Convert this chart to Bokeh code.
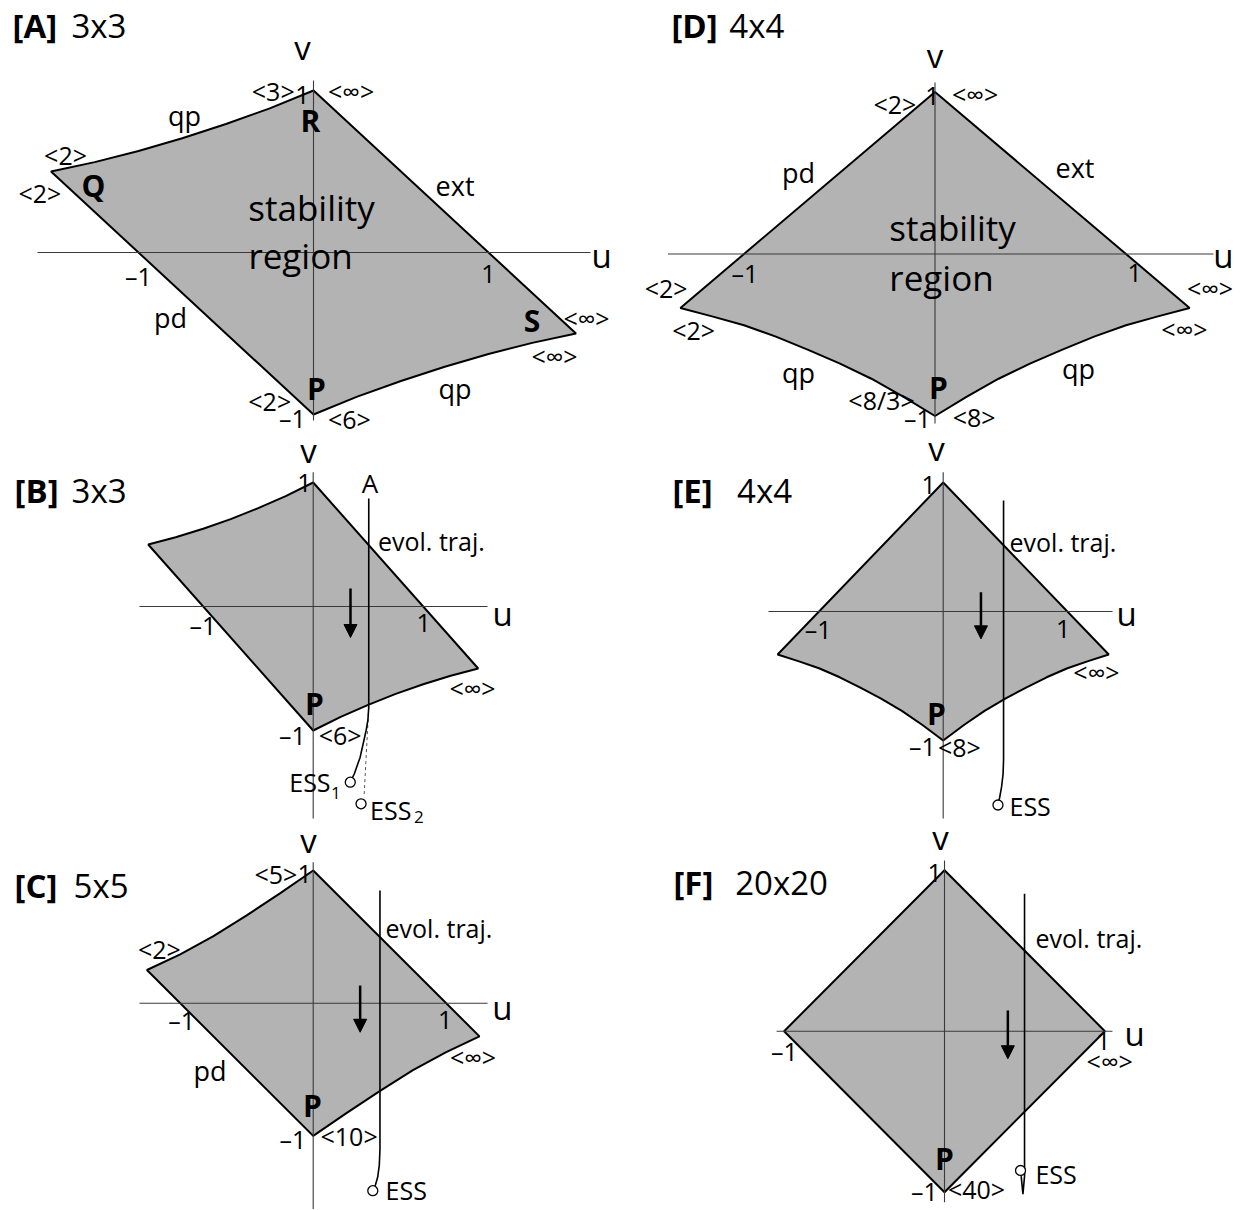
from bokeh.plotting import figure
from bokeh.models import Range1d, Arrow, NormalHead
from bokeh.core.properties import value
from bokeh.embed import file_html
from bokeh.resources import INLINE

FONT = "Open Sans"
FILL = "#b3b3b3"
AXC = "#3a3a3a"

# ---------------- data (u, v coordinates) ----------------
# 3x3 stability region (panels A, B)
qp3_top_u = [-1.5, -1.25, -1.0, -0.75, -0.5, -0.25, 0.0]
qp3_top_v = [0.5, 0.558, 0.627, 0.705, 0.793, 0.89, 1.0]
qp3_bot_u = [0.0, 0.25, 0.5, 0.75, 1.0, 1.25, 1.5]
qp3_bot_v = [-1.0, -0.89, -0.793, -0.705, -0.627, -0.558, -0.5]

# 4x4 stability region (panels D, E)
top4 = (0.0, 1.0)
qp4_left_u = [-1.333, -1.167, -1.0, -0.833, -0.667, -0.5, -0.333, -0.167, 0.0]
qp4_left_v = [-0.333, -0.385, -0.44, -0.51, -0.59, -0.675, -0.77, -0.88, -1.0]
qp4_right_u = [0.0, 0.167, 0.333, 0.5, 0.667, 0.833, 1.0, 1.167, 1.333]
qp4_right_v = [-1.0, -0.88, -0.77, -0.675, -0.59, -0.51, -0.44, -0.385, -0.333]

# 5x5 stability region (panel C)
qp5_top_u = [-1.25, -1.0, -0.75, -0.5, -0.25, 0.0]
qp5_top_v = [0.25, 0.368, 0.505, 0.662, 0.828, 1.0]
qp5_bot_u = [0.0, 0.25, 0.5, 0.75, 1.0, 1.25]
qp5_bot_v = [-1.0, -0.828, -0.662, -0.505, -0.368, -0.25]

# 20x20 stability region (panel F)
sq20_u = [0.0, 1.0, 0.0, -1.0]
sq20_v = [1.0, 0.0, -1.0, 0.0]

# evolutionary trajectories
B_traj_u = [0.505, 0.505, 0.497, 0.481, 0.427, 0.374, 0.337]
B_traj_v = [0.871, -0.812, -0.919, -1.0, -1.215, -1.349, -1.417]
B_dash_u = [0.505, 0.462]
B_dash_v = [-0.812, -1.538]
B_ess_u = [0.337, 0.435]
B_ess_v = [-1.417, -1.591]

E_traj_u = [0.486, 0.486, 0.482, 0.47, 0.455, 0.441]
E_traj_v = [0.86, -1.15, -1.26, -1.36, -1.44, -1.50]
E_ess_u = [0.441]
E_ess_v = [-1.50]

C_traj_u = [0.502, 0.502, 0.497, 0.485, 0.468, 0.448]
C_traj_v = [0.849, -1.10, -1.22, -1.31, -1.37, -1.413]
C_ess_u = [0.448]
C_ess_v = [-1.413]

F_traj_u = [0.499, 0.499, 0.489, 0.478]
F_traj_v = [0.853, -0.90, -1.012, -0.90]
F_ess_u = [0.474]
F_ess_v = [-0.865]

# direction arrows (u, v_start, v_end)
B_arrow = (0.339, 0.145, -0.25)
E_arrow = (0.304, 0.15, -0.212)
C_arrow = (0.353, 0.133, -0.219)
F_arrow = (0.395, 0.129, -0.171)

# ---------------- one canvas, one (u, v) scale pair per panel ----------------
W, H = 1240, 1210
p = figure(width=W, height=H, x_range=Range1d(0, W), y_range=Range1d(H, 0),
           output_backend="svg", toolbar_location=None,
           x_axis_location=None, y_axis_location=None, title=None, min_border=0)
p.grid.visible = False
p.outline_line_color = None
p.background_fill_color = "white"
p.border_fill_color = "white"

# panel name -> (origin x, origin y, px per u, px per v) on the canvas
PANELS = {
    "A": (313, 252, 175, 162),
    "D": (934.5, 253.5, 191, 162),
    "B": (312.7, 606, 110, 124),
    "E": (942.7, 611, 124.2, 129),
    "C": (312.7, 1002.7, 133, 132.7),
    "F": (944, 1030.7, 160.4, 161),
}
for name, (ox, oy, sx, sy) in PANELS.items():
    p.extra_x_ranges[name] = Range1d(-ox / sx, (W - ox) / sx)
    p.extra_y_ranges[name] = Range1d((oy - H) / sy, oy / sy)


def R(n):
    return dict(x_range_name=n, y_range_name=n)


def region(n, us, vs):
    p.patch(us, vs, fill_color=FILL, line_color="black", line_width=2, **R(n))


def axes(n, ur, vr):
    p.line(list(ur), [0, 0], line_color=AXC, line_width=1.1, **R(n))
    p.line([0, 0], list(vr), line_color=AXC, line_width=1.1, **R(n))


def labels(n, items):
    for (u, v, t, size, bold, align) in items:
        p.text(x=[u], y=[v], text=[t], text_font=value(FONT),
               text_font_size=f"{size}px",
               text_font_style="bold" if bold else "normal",
               text_align=align, text_baseline="middle", text_color="black", **R(n))


def arrow(n, a):
    u, v0, v1 = a
    p.add_layout(Arrow(end=NormalHead(size=13, fill_color="black", line_color="black"),
                       x_start=u, y_start=v0, x_end=u, y_end=v1,
                       line_width=2.5, line_color="black", **R(n)))


def traj(n, us, vs):
    p.line(us, vs, line_color="black", line_width=1.6, **R(n))


def ess(n, us, vs):
    p.scatter(us, vs, marker="circle", size=10, fill_color="white",
              line_color="black", line_width=1.3, **R(n))


T, AX, TK, PER, WD, BL, SR, ET = 33, 33, 25, 25, 27, 30, 35, 25
M1 = "\u20131"
INF = "<\u221e>"

# ---------------- panel A (3x3) ----------------
region("A", qp3_top_u + qp3_bot_u[::-1], qp3_top_v + qp3_bot_v[::-1])
axes("A", (-1.577, 1.583), (1.062, -1.037))
labels("A", [
    (-1.72, 1.401, "[A]", T, True, "left"),
    (-1.383, 1.401, "3x3", T, False, "left"),
    (-0.063, 1.265, "v", AX, False, "center"),
    (-0.23, 1.0, "<3>", PER, False, "center"),
    (-0.063, 0.975, "1", TK, False, "center"),
    (0.215, 0.994, INF, PER, False, "center"),
    (-0.737, 0.846, "qp", WD, False, "center"),
    (-0.017, 0.815, "R", BL, True, "center"),
    (-1.417, 0.599, "<2>", PER, False, "center"),
    (-1.563, 0.370, "<2>", PER, False, "center"),
    (-1.257, 0.414, "Q", BL, True, "center"),
    (0.809, 0.414, "ext", WD, False, "center"),
    (-0.011, 0.278, "stability", SR, False, "center"),
    (-0.074, -0.019, "region", SR, False, "center"),
    (1.646, -0.019, "u", AX, False, "center"),
    (-1.0, -0.142, M1, TK, False, "center"),
    (1.0, -0.13, "1", TK, False, "center"),
    (-0.817, -0.401, "pd", WD, False, "center"),
    (1.249, -0.42, "S", BL, True, "center"),
    (1.56, -0.407, INF, PER, False, "center"),
    (1.377, -0.636, INF, PER, False, "center"),
    (0.809, -0.84, "qp", WD, False, "center"),
    (0.017, -0.84, "P", BL, True, "center"),
    (-0.25, -0.914, "<2>", PER, False, "center"),
    (-0.12, -1.019, M1, TK, False, "center"),
    (0.205, -1.025, "<6>", PER, False, "center"),
])

# ---------------- panel D (4x4) ----------------
region("D", [top4[0]] + qp4_right_u[::-1] + qp4_left_u[::-1][1:],
       [top4[1]] + qp4_right_v[::-1] + qp4_left_v[::-1][1:])
axes("D", (-1.398, 1.458), (1.059, -1.046))
labels("D", [
    (-1.38, 1.41, "[D]", T, True, "left"),
    (-1.077, 1.41, "4x4", T, False, "left"),
    (0.0, 1.225, "v", AX, False, "center"),
    (-0.21, 0.929, "<2>", PER, False, "center"),
    (-0.013, 0.978, "1", TK, False, "center"),
    (0.21, 0.985, INF, PER, False, "center"),
    (-0.715, 0.503, "pd", WD, False, "center"),
    (0.733, 0.534, "ext", WD, False, "center"),
    (0.092, 0.164, "stability", SR, False, "center"),
    (0.034, -0.145, "region", SR, False, "center"),
    (1.51, -0.009, "u", AX, False, "center"),
    (-0.995, -0.12, M1, TK, False, "center"),
    (1.045, -0.12, "1", TK, False, "center"),
    (-1.408, -0.207, "<2>", PER, False, "center"),
    (-1.264, -0.472, "<2>", PER, False, "center"),
    (1.44, -0.207, INF, PER, False, "center"),
    (1.306, -0.46, INF, PER, False, "center"),
    (-0.715, -0.731, "qp", WD, False, "center"),
    (0.751, -0.707, "qp", WD, False, "center"),
    (0.018, -0.824, "P", BL, True, "center"),
    (-0.28, -0.904, "<8/3>", PER, False, "center"),
    (-0.092, -1.015, M1, TK, False, "center"),
    (0.205, -1.009, "<8>", PER, False, "center"),
])

# ---------------- panel B (3x3 with trajectory) ----------------
region("B", qp3_top_u + qp3_bot_u[::-1], qp3_top_v + qp3_bot_v[::-1])
axes("B", (-1.579, 1.585), (1.083, -1.71))
p.line(B_dash_u, B_dash_v, line_color="#555555", line_width=1, line_dash="3 3", **R("B"))
traj("B", B_traj_u, B_traj_v)
ess("B", B_ess_u, B_ess_v)
arrow("B", B_arrow)
labels("B", [
    (-2.715, 0.935, "[B]", T, True, "left"),
    (-2.197, 0.935, "3x3", T, False, "left"),
    (-0.043, 1.258, "v", AX, False, "center"),
    (-0.079, 0.992, "1", TK, False, "center"),
    (0.517, 0.992, "A", 26, False, "center"),
    (0.589, 0.532, "evol. traj.", ET, False, "left"),
    (1.721, -0.056, "u", AX, False, "center"),
    (-1.002, -0.153, M1, TK, False, "center"),
    (1.003, -0.137, "1", TK, False, "center"),
    (1.448, -0.661, INF, PER, False, "center"),
    (0.012, -0.782, "P", BL, True, "center"),
    (-0.188, -1.04, M1, TK, False, "center"),
    (0.245, -1.04, "<6>", PER, False, "center"),
    (0.158, -1.417, "ESS", ET, False, "right"),
    (0.205, -1.50, "1", 17, False, "center"),
    (0.517, -1.645, "ESS", ET, False, "left"),
    (0.96, -1.694, "2", 17, False, "center"),
])

# ---------------- panel E (4x4 with trajectory) ----------------
region("E", [top4[0]] + qp4_right_u[::-1] + qp4_left_u[::-1][1:],
       [top4[1]] + qp4_right_v[::-1] + qp4_left_v[::-1][1:])
axes("E", (-1.407, 1.363), (1.08, -1.605))
traj("E", E_traj_u, E_traj_v)
ess("E", E_ess_u, E_ess_v)
arrow("E", E_arrow)
labels("E", [
    (-2.18, 0.938, "[E]", T, True, "left"),
    (-1.66, 0.938, "4x4", T, False, "left"),
    (-0.054, 1.264, "v", AX, False, "center"),
    (-0.118, 0.977, "1", TK, False, "center"),
    (0.534, 0.537, "evol. traj.", ET, False, "left"),
    (1.476, -0.016, "u", AX, False, "center"),
    (-1.007, -0.132, M1, TK, False, "center"),
    (0.966, -0.132, "1", TK, False, "center"),
    (1.234, -0.471, INF, PER, False, "center"),
    (-0.054, -0.791, "P", BL, True, "center"),
    (-0.167, -1.039, M1, TK, False, "center"),
    (0.13, -1.052, "<8>", PER, False, "center"),
    (0.534, -1.504, "ESS", ET, False, "left"),
])

# ---------------- panel C (5x5 with trajectory) ----------------
region("C", qp5_top_u + qp5_bot_u[::-1], qp5_top_v + qp5_bot_v[::-1])
axes("C", (-1.306, 1.311), (1.063, -1.55))
traj("C", C_traj_u, C_traj_v)
ess("C", C_ess_u, C_ess_v)
arrow("C", C_arrow)
labels("C", [
    (-2.246, 0.887, "[C]", T, True, "left"),
    (-1.802, 0.887, "5x5", T, False, "left"),
    (-0.035, 1.226, "v", AX, False, "center"),
    (-0.28, 0.977, "<5>", PER, False, "center"),
    (-0.065, 0.977, "1", TK, False, "center"),
    (0.544, 0.563, "evol. traj.", ET, False, "left"),
    (-1.156, 0.412, "<2>", PER, False, "center"),
    (-0.99, -0.13, M1, TK, False, "center"),
    (0.992, -0.13, "1", TK, False, "center"),
    (1.423, -0.032, "u", AX, False, "center"),
    (1.202, -0.409, INF, PER, False, "center"),
    (-0.776, -0.507, "pd", WD, False, "center"),
    (-0.005, -0.771, "P", BL, True, "center"),
    (-0.152, -1.02, M1, TK, False, "center"),
    (0.27, -0.997, "<10>", PER, False, "center"),
    (0.544, -1.405, "ESS", ET, False, "left"),
])

# ---------------- panel F (20x20 with trajectory) ----------------
region("F", sq20_u, sq20_v)
axes("F", (-1.047, 1.047), (1.06, -1.062))
traj("F", F_traj_u, F_traj_v)
ess("F", F_ess_u, F_ess_v)
arrow("F", F_arrow)
labels("F", [
    (-1.69, 0.924, "[F]", T, True, "left"),
    (-1.305, 0.924, "20x20", T, False, "left"),
    (-0.025, 1.203, "v", AX, False, "center"),
    (-0.062, 0.98, "1", TK, False, "center"),
    (0.567, 0.576, "evol. traj.", ET, False, "left"),
    (1.185, -0.014, "u", AX, False, "center"),
    (-0.998, -0.12, M1, TK, False, "center"),
    (0.991, -0.058, "1", TK, False, "center"),
    (1.03, -0.182, INF, PER, False, "center"),
    (0.0, -0.791, "P", BL, True, "center"),
    (-0.125, -0.99, M1, TK, False, "center"),
    (0.2, -0.98, "<40>", PER, False, "center"),
    (0.567, -0.884, "ESS", ET, False, "left"),
])

open("out.html", "w").write(file_html(p, INLINE))
